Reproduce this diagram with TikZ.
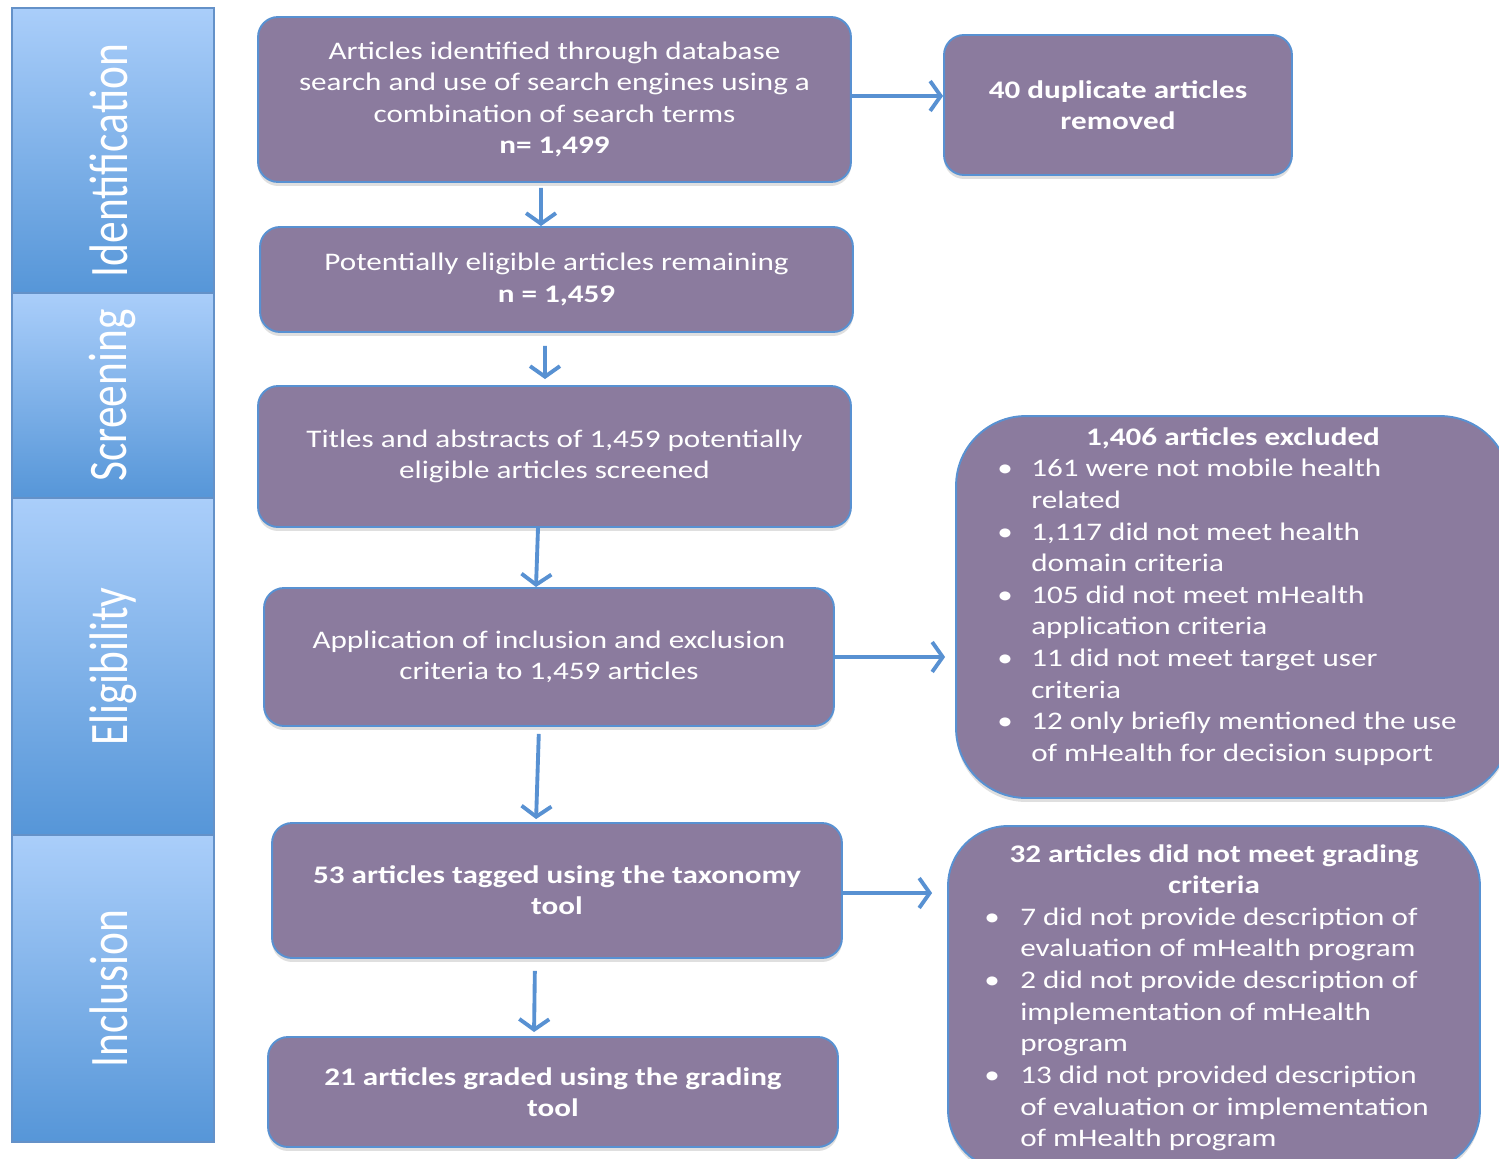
\documentclass[tikz,border=0pt]{standalone}
\usepackage{fontspec}
\setmainfont[FakeStretch=1.23]{Carlito}
\newfontfamily\barfont{Carlito}
\usetikzlibrary{arrows.meta,shadows}
\definecolor{boxfill}{RGB}{139,123,158}
\definecolor{boxline}{RGB}{88,145,210}
\definecolor{bartop}{RGB}{170,206,250}
\definecolor{barbot}{RGB}{86,150,216}
\definecolor{barline}{RGB}{100,145,200}
\newcommand{\bartext}[1]{\raisebox{0.16cm}{\scalebox{1}[1.25]{\barfont\fontsize{24.7}{28}\selectfont #1}}}

\begin{document}
\begin{tikzpicture}[x=0.02cm, y=-0.02cm,
    main/.style = {draw=boxline, line width=1.1pt, fill=boxfill, rounded corners=0.4cm,
                   text=white, align=center, inner sep=2pt,
                   font=\fontsize{14.4}{17.8}\selectfont,
                   drop shadow={shadow xshift=0pt, shadow yshift=-0.08cm, opacity=0.25}},
    side/.style = {main, font=\fontsize{14.4}{18}\selectfont},
    stage/.style = {draw=barline, line width=0.6pt, rotate=90, text=white,
                    top color=bartop, bottom color=barbot, inner sep=0pt},
    arr/.style = {draw=boxline, line width=2.2pt, -{Straight Barb[length=6pt,width=17pt]}}]
  \useasboundingbox (0,0) rectangle (1499,1159);

  % phase bars
  \node[stage, minimum width=5.7cm,  minimum height=4.04cm] (idbar)  at (113,150.5) {\bartext{Identification}\hspace*{0.4cm}};
  \node[stage, minimum width=4.1cm,  minimum height=4.04cm] (scrbar) at (113,395.5) {\bartext{Screening}};
  \node[stage, minimum width=6.74cm, minimum height=4.04cm] (elbar)  at (113,666.5) {\bartext{Eligibility}};
  \node[stage, minimum width=6.14cm, minimum height=4.04cm] (inbar)  at (113,988.5) {\bartext{Inclusion}};

  % main column
  \node[main, minimum width=11.86cm, minimum height=3.3cm] (ident) at (554.5,99.5)
    {Articles identified through database\\search and use of search engines using a\\combination of search terms\\\textbf{n= 1,499}};
  \node[main, minimum width=11.86cm, minimum height=2.1cm] (remain) at (556.5,279.5)
    {Potentially eligible articles remaining\\\textbf{n = 1,459}};
  \node[main, minimum width=11.86cm, minimum height=2.82cm] (titles) at (554.5,456.5)
    {Titles and abstracts of 1,459 potentially\\eligible articles screened};
  \node[main, minimum width=11.4cm, minimum height=2.76cm] (apply) at (549,657)
    {Application of inclusion and exclusion\\criteria to 1,459 articles};
  \node[main, minimum width=11.4cm, minimum height=2.7cm] (tagged) at (557,890.5)
    {\textbf{53 articles tagged using the taxonomy}\\\textbf{tool}};
  \node[main, minimum width=11.4cm, minimum height=2.2cm] (graded) at (553,1092)
    {\textbf{21 articles graded using the grading}\\\textbf{tool}};

  % side boxes
  \node[main, minimum width=6.96cm, minimum height=2.8cm] (dup) at (1118,105)
    {\textbf{40 duplicate articles}\\\textbf{removed}};
  \node[side, rounded corners=1.4cm, minimum width=11.08cm, minimum height=7.64cm] (excl) at (1233,607)
    {\begin{tabular}{@{}p{0.68cm}@{}l@{\hspace{0.24cm}}}
      \multicolumn{2}{@{}c@{}}{\textbf{1,406 articles excluded}}\\
      \textbullet & 161 were not mobile health\\
                  & related\\
      \textbullet & 1,117 did not meet health\\
                  & domain criteria\\
      \textbullet & 105 did not meet mHealth\\
                  & application criteria\\
      \textbullet & 11 did not meet target user\\
                  & criteria\\
      \textbullet & 12 only briefly mentioned the use\\
                  & of mHealth for decision support\\[0.4cm]
    \end{tabular}};
  \node[side, rounded corners=1.2cm, minimum width=10.64cm, minimum height=6.88cm] (gradex) at (1214,998)
    {\begin{tabular}{@{}p{0.72cm}@{}l@{\hspace{0.3cm}}}
      \multicolumn{2}{@{}c@{}}{\textbf{32 articles did not meet grading}}\\
      \multicolumn{2}{@{}c@{}}{\textbf{criteria}}\\
      \textbullet & 7 did not provide description of\\
                  & evaluation of mHealth program\\
      \textbullet & 2 did not provide description of\\
                  & implementation of mHealth\\
                  & program\\
      \textbullet & 13 did not provided description\\
                  & of evaluation or implementation\\
                  & of mHealth program
    \end{tabular}};

  % arrows
  \draw[arr, shorten <=0.1cm] ([xshift=-0.27cm]ident.south) -- ([xshift=-0.31cm]remain.north);
  \draw[arr] ([yshift=0.07cm]ident.east) -- ([yshift=0.18cm]dup.west);
  \draw[arr, shorten <=0.26cm, shorten >=0.12cm] ([xshift=-0.23cm]remain.south) -- ([xshift=-0.19cm]titles.north);
  \draw[arr] ([xshift=-0.33cm]titles.south) -- ([xshift=-0.26cm]apply.north);
  \draw[arr, shorten >=0.2cm] (apply.east) -- ([yshift=-1cm]excl.west);
  \draw[arr, shorten <=0.14cm, shorten >=0.06cm] ([xshift=-0.2cm]apply.south) -- ([xshift=-0.42cm]tagged.north);
  \draw[arr, shorten >=0.3cm] ([yshift=-0.05cm]tagged.east) -- ([yshift=2.1cm]gradex.west);
  \draw[arr, shorten <=0.24cm, shorten >=0.08cm] ([xshift=-0.44cm]tagged.south) -- ([xshift=-0.38cm]graded.north);
\end{tikzpicture}
\end{document}
